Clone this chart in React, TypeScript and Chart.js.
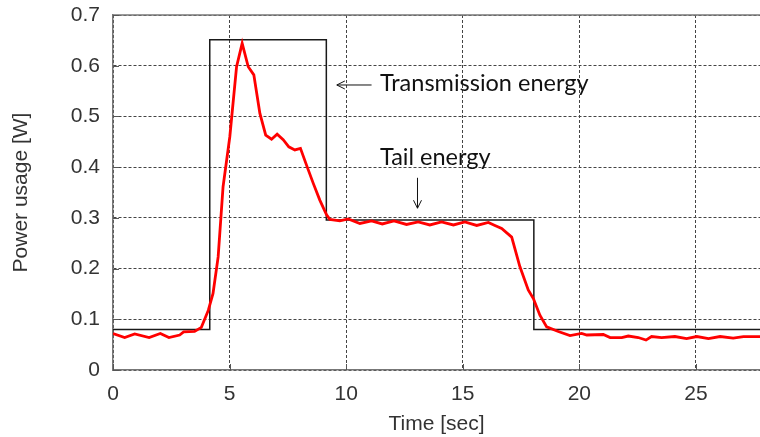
import React, { useEffect, useRef } from "react";
import { Chart, registerables } from "chart.js";

Chart.register(...registerables);

// Measured power (red trace)
const timeSec = [
  0, 0.5, 0.93, 1.55, 2.03, 2.4, 2.86, 3.03, 3.5, 3.79, 4.09, 4.29, 4.51, 4.72, 5.01, 5.3, 5.54, 5.8,
  6.04, 6.3, 6.55, 6.8, 7.04, 7.3, 7.54, 7.8, 8.04, 8.3, 8.59, 8.87, 9.16, 9.3, 9.73, 10.09, 10.59,
  11.09, 11.55, 12.05, 12.59, 13.09, 13.59, 14.09, 14.6, 15.09, 15.6, 16.1, 16.38, 16.67, 17.1, 17.45,
  17.81, 18.03, 18.31, 18.6, 19.1, 19.6, 20.1, 20.32, 21.03, 21.32, 21.82, 22.1, 22.53, 22.86, 23.1,
  23.53, 24.1, 24.6, 25.04, 25.54, 26.04, 26.6, 27.04, 27.75,
];
const powerW = [
  0.072, 0.064, 0.071, 0.064, 0.072, 0.064, 0.069, 0.075, 0.076, 0.084, 0.118, 0.151, 0.223, 0.361,
  0.46, 0.598, 0.644, 0.598, 0.582, 0.506, 0.463, 0.455, 0.465, 0.454, 0.44, 0.434, 0.437, 0.404,
  0.368, 0.335, 0.306, 0.297, 0.294, 0.298, 0.289, 0.294, 0.288, 0.294, 0.287, 0.292, 0.286, 0.292,
  0.286, 0.292, 0.285, 0.291, 0.285, 0.279, 0.262, 0.204, 0.158, 0.141, 0.108, 0.085, 0.076, 0.068,
  0.072, 0.069, 0.07, 0.064, 0.064, 0.067, 0.064, 0.059, 0.066, 0.064, 0.066, 0.062, 0.066, 0.062,
  0.066, 0.063, 0.066, 0.066,
];

// Model (black step outline)
const modelX = [0, 4.15, 4.15, 9.15, 9.15, 18.05, 18.05, 27.75];
const modelY = [0.08, 0.08, 0.651, 0.651, 0.296, 0.296, 0.08, 0.08];

const xTickStep = 5;
const yTickStep = 0.1;
const xMax = 27.75;
const yMax = 0.7;

const transmissionLabel = "Transmission energy";
const tailLabel = "Tail energy";

const extras = {
  id: "extras",
  afterDraw(chart: any) {
    const { ctx, chartArea, scales } = chart;
    const xs = scales.x;
    const ys = scales.y;
    ctx.save();
    // top border
    ctx.strokeStyle = "#777";
    ctx.lineWidth = 1.5;
    ctx.beginPath();
    ctx.moveTo(chartArea.left, chartArea.top);
    ctx.lineTo(chartArea.right, chartArea.top);
    ctx.stroke();
    // inner tick marks
    ctx.strokeStyle = "#555";
    ctx.lineWidth = 1;
    ys.ticks.forEach((t: any) => {
      const py = Math.round(ys.getPixelForValue(t.value)) + 0.5;
      ctx.beginPath();
      ctx.moveTo(chartArea.left, py);
      ctx.lineTo(chartArea.left + 6, py);
      ctx.stroke();
    });
    xs.ticks.forEach((t: any) => {
      const px = Math.round(xs.getPixelForValue(t.value)) + 0.5;
      ctx.beginPath();
      ctx.moveTo(px, chartArea.bottom);
      ctx.lineTo(px, chartArea.bottom - 6);
      ctx.stroke();
    });
    // annotations
    ctx.fillStyle = "#111";
    ctx.strokeStyle = "#111";
    ctx.font = "23.5px Lato";
    ctx.textBaseline = "middle";
    ctx.textAlign = "left";
    const tx = xs.getPixelForValue(11.45);
    const ty = ys.getPixelForValue(0.565);
    ctx.fillText(transmissionLabel, tx, ty);
    const ax1 = xs.getPixelForValue(11.09);
    const ax2 = xs.getPixelForValue(9.6);
    const ay = ys.getPixelForValue(0.562);
    ctx.lineWidth = 1;
    ctx.beginPath();
    ctx.moveTo(ax1, ay);
    ctx.lineTo(ax2, ay);
    ctx.moveTo(ax2 + 8, ay - 4);
    ctx.lineTo(ax2, ay);
    ctx.lineTo(ax2 + 8, ay + 4);
    ctx.stroke();
    const ly = ys.getPixelForValue(0.42);
    ctx.fillText(tailLabel, tx, ly);
    const dx = xs.getPixelForValue(13.06);
    const dy1 = ys.getPixelForValue(0.379);
    const dy2 = ys.getPixelForValue(0.319);
    ctx.beginPath();
    ctx.moveTo(dx, dy1);
    ctx.lineTo(dx, dy2);
    ctx.moveTo(dx - 4, dy2 - 8);
    ctx.lineTo(dx, dy2);
    ctx.lineTo(dx + 4, dy2 - 8);
    ctx.stroke();
    ctx.restore();
  },
};

export default function App() {
  const ref = useRef<HTMLCanvasElement>(null);
  useEffect(() => {
    if (!ref.current) return;
    const tickFont = { family: "'Liberation Sans', Arial, sans-serif", size: 21 };
    const chart = new Chart(ref.current, {
      type: "scatter",
      data: {
        datasets: [
          {
            label: "Model",
            data: modelX.map((x, i) => ({ x, y: modelY[i] })),
            showLine: true,
            borderColor: "#1a1a1a",
            borderWidth: 1.5,
            pointRadius: 0,
            tension: 0,
            order: 2,
          },
          {
            label: "Measured",
            data: timeSec.map((x, i) => ({ x, y: powerW[i] })),
            showLine: true,
            borderColor: "#ff0000",
            borderWidth: 2.8,
            pointRadius: 0,
            tension: 0,
            order: 1,
          },
        ],
      },
      plugins: [extras],
      options: {
        animation: false,
        responsive: false,
        maintainAspectRatio: false,
        layout: { padding: { top: 15, right: 0, left: 0, bottom: 0 } },
        plugins: { legend: { display: false }, tooltip: { enabled: false } },
        scales: {
          x: {
            type: "linear",
            min: 0,
            max: xMax,
            afterFit: (s: any) => {
              s.height = 67;
              s.paddingLeft = 0;
              s.paddingRight = 0;
            },
            ticks: {
              stepSize: xTickStep,
              includeBounds: false,
              font: tickFont,
              color: "#333",
              padding: 12,
            },
            grid: {
              color: "#444",
              lineWidth: 1,
              drawTicks: false,
            },
            border: { display: true, color: "#777", width: 1.5, dash: [3, 2] },
            title: {
              display: true,
              text: "Time [sec]",
              font: { family: "'Liberation Sans', Arial, sans-serif", size: 21 },
              color: "#333",
              padding: { top: 0, bottom: 0 },
            },
          },
          y: {
            type: "linear",
            min: 0,
            max: yMax,
            afterFit: (s: any) => {
              s.width = 113;
              s.paddingTop = 0;
              s.paddingBottom = 0;
            },
            ticks: {
              stepSize: yTickStep,
              font: tickFont,
              color: "#333",
              padding: 13,
              callback: (v: any) => String(Math.round(Number(v) * 10) / 10),
            },
            grid: {
              color: "#444",
              lineWidth: 1,
              drawTicks: false,
            },
            border: { display: true, color: "#777", width: 1.5, dash: [3, 2] },
            title: {
              display: true,
              text: "Power usage [W]",
              font: { family: "'Liberation Sans', Arial, sans-serif", size: 21 },
              color: "#333",
              padding: { top: 9, bottom: 0 },
            },
          },
        },
      },
    });
    return () => chart.destroy();
  }, []);
  return (
    <div style={{ position: "fixed", left: 0, top: 0, width: 760, height: 437, background: "#fff" }}>
      <canvas ref={ref} width={760} height={437} style={{ display: "block" }} />
    </div>
  );
}
